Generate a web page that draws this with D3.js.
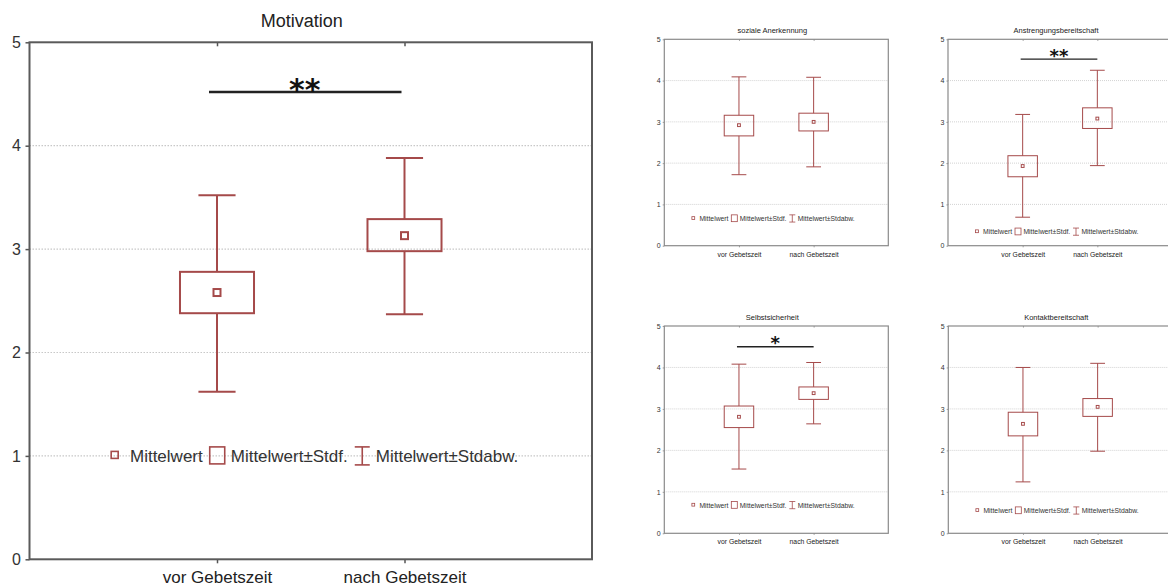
<!DOCTYPE html>
<html>
<head>
<meta charset="utf-8">
<script src="https://cdn.jsdelivr.net/npm/d3@7"></script>
<style>
  body { margin: 0; background: #fff; }
  svg { display: block; font-family: "Liberation Sans", Arial, sans-serif; }
</style>
</head>
<body>
<script>
// ---------- DATA ----------
const categories = ["vor Gebetszeit", "nach Gebetszeit"];
const titles = ["Motivation", "soziale Anerkennung", "Anstrengungsbereitschaft", "Selbstsicherheit", "Kontaktbereitschaft"];
const means    = [[2.58, 3.13], [2.92, 3.00], [1.93, 3.08], [2.81, 3.38], [2.64, 3.05]];
const stdfLow  = [[2.38, 2.98], [2.66, 2.78], [1.67, 2.84], [2.55, 3.23], [2.35, 2.82]];
const stdfHigh = [[2.78, 3.29], [3.16, 3.21], [2.18, 3.34], [3.07, 3.53], [2.92, 3.25]];
const sdLow    = [[1.62, 2.37], [1.72, 1.91], [0.69, 1.94], [1.55, 2.64], [1.24, 1.98]];
const sdHigh   = [[3.52, 3.88], [4.09, 4.08], [3.18, 4.25], [4.08, 4.12], [4.00, 4.10]];
const sigStars = ["**", "", "**", "*", ""];
const sigLevel = [4.52, null, 4.52, 4.50, null];
const yTicks = [0, 1, 2, 3, 4, 5];
const legendLabels = ["Mittelwert", "Mittelwert±Stdf.", "Mittelwert±Stdabw."];

// ---------- LAYOUT ----------
const panels = [
  {left: 29.5,  top: 42.3,  width: 562.5, height: 517,   s: 1,   legendAt: 1.0,
   fs: {title: 18, tick: 16, label: 17, legend: 17, star: 30}},
  {left: 664.3, top: 39.3,  width: 224,   height: 206.4, s: 0.4, legendAt: 0.66,
   fs: {title: 7.5, tick: 7, label: 6.8, legend: 6.8, star: 18}},
  {left: 948,   top: 39.3,  width: 224,   height: 206.4, s: 0.4, legendAt: 0.34,
   fs: {title: 7.5, tick: 7, label: 6.8, legend: 6.8, star: 18}},
  {left: 664.3, top: 326,   width: 224,   height: 207.3, s: 0.4, legendAt: 0.68,
   fs: {title: 7.5, tick: 7, label: 6.8, legend: 6.8, star: 18}},
  {left: 948.3, top: 326,   width: 224,   height: 207.3, s: 0.4, legendAt: 0.55,
   fs: {title: 7.5, tick: 7, label: 6.8, legend: 6.8, star: 18}}
];

const red = "#a54a4a";

let svg = d3.select("body").append("svg")
  .attr("width", 1168)
  .attr("height", 587);

panels.forEach(function(p, i) {
  let s = p.s;
  let w = p.width, h = p.height;
  let main = (s === 1);
  let lw = main ? 2 : 1;

  let g = svg.append("g")
    .attr("transform", "translate(" + p.left + "," + p.top + ")");

  let x = d3.scalePoint().domain(categories).range([0, w]).padding(1);
  let y = d3.scaleLinear().domain([0, 5]).range([h, 0]);

  //----grid----
  g.selectAll(".grid").data(yTicks.filter(t => t > 0 && t < 5)).join("line")
    .attr("class", "grid")
    .attr("x1", 0).attr("x2", w)
    .attr("y1", d => y(d)).attr("y2", d => y(d))
    .attr("stroke", "#c8c8c8")
    .attr("stroke-width", main ? 1.2 : 0.8)
    .attr("stroke-dasharray", main ? "1.5,1.5" : "1,1");

  //----axes----
  let yAxis = d3.axisLeft(y).tickValues(yTicks).tickFormat(d3.format("d"))
    .tickSize(main ? 4 : 1.6).tickPadding(main ? 4.5 : 2);
  let yg = g.append("g").call(yAxis);
  let xAxis = d3.axisBottom(x).tickSize(main ? 4 : 1.6).tickPadding(main ? 8 : 4.6);
  let xg = g.append("g").attr("transform", "translate(0," + h + ")").call(xAxis);
  let tg = g.append("g").call(d3.axisTop(x).tickSize(main ? -4 : -1.6).tickFormat(""));
  [yg, xg, tg].forEach(a => {
    a.select(".domain").remove();
    a.selectAll("line").attr("stroke", main ? "#555" : "#888").attr("stroke-width", main ? 1.5 : 0.8);
  });
  yg.selectAll("text").attr("font-size", p.fs.tick).attr("fill", "#333");
  xg.selectAll("text").attr("font-size", p.fs.label).attr("fill", "#222");

  //----frame----
  g.append("rect")
    .attr("width", w).attr("height", h)
    .attr("fill", "none")
    .attr("stroke", main ? "#5a5a5a" : "#8a8a8a")
    .attr("stroke-width", main ? 2 : 1.2);

  //----title----
  g.append("text")
    .attr("x", w / 2 - (main ? 9 : 4))
    .attr("y", main ? -15 : -6)
    .attr("text-anchor", "middle")
    .attr("font-size", p.fs.title)
    .attr("fill", "#222")
    .text(titles[i]);

  //----boxes and whiskers----
  let boxW = w * 0.1316, capW = w * 0.066, mk = Math.max(7 * s, 2.8);
  categories.forEach(function(c, j) {
    let cx = x(c);
    let bg = g.append("g").attr("stroke", red).attr("stroke-width", lw).attr("fill", "none");
    bg.append("line").attr("x1", cx).attr("x2", cx)
      .attr("y1", y(stdfHigh[i][j])).attr("y2", y(sdHigh[i][j]));
    bg.append("line").attr("x1", cx).attr("x2", cx)
      .attr("y1", y(stdfLow[i][j])).attr("y2", y(sdLow[i][j]));
    bg.append("line").attr("x1", cx - capW / 2).attr("x2", cx + capW / 2)
      .attr("y1", y(sdHigh[i][j])).attr("y2", y(sdHigh[i][j]));
    bg.append("line").attr("x1", cx - capW / 2).attr("x2", cx + capW / 2)
      .attr("y1", y(sdLow[i][j])).attr("y2", y(sdLow[i][j]));
    bg.append("rect")
      .attr("x", cx - boxW / 2).attr("width", boxW)
      .attr("y", y(stdfHigh[i][j]))
      .attr("height", y(stdfLow[i][j]) - y(stdfHigh[i][j]));
    bg.append("rect")
      .attr("x", cx - mk / 2).attr("y", y(means[i][j]) - mk / 2)
      .attr("width", mk).attr("height", mk);
  });

  //----significance----
  if (sigLevel[i] !== null) {
    g.append("line")
      .attr("x1", x(categories[0]) - (main ? 8 : 2))
      .attr("x2", x(categories[1]) - (main ? 3 : 0))
      .attr("y1", y(sigLevel[i])).attr("y2", y(sigLevel[i]))
      .attr("stroke", "#222")
      .attr("stroke-width", main ? 2.5 : 1.3);
    g.append("text")
      .attr("x", (x(categories[0]) + x(categories[1])) / 2 - (main ? 6 : 1))
      .attr("y", y(sigLevel[i]) - (main ? 9 : 8) + p.fs.star * 0.58)
      .attr("text-anchor", "middle")
      .attr("font-family", "DejaVu Sans")
      .attr("font-weight", "bold")
      .attr("font-size", p.fs.star)
      .attr("fill", "#111")
      .text(sigStars[i]);
  }

  //----legend----
  let leg = g.append("g");
  let ly = y(p.legendAt);
  let cur = 0;
  let lstroke = main ? 1.6 : 0.8;
  legendLabels.forEach(function(lab, k) {
    if (k === 0) {
      leg.append("rect")
        .attr("x", cur).attr("y", ly - 3.5 * s - 1 * s)
        .attr("width", 7 * s).attr("height", 7 * s)
        .attr("fill", "none").attr("stroke", red).attr("stroke-width", lstroke);
      cur += 7 * s + 11.8 * s;
    } else if (k === 1) {
      leg.append("rect")
        .attr("x", cur).attr("y", ly - 9 * s)
        .attr("width", 15 * s).attr("height", 17 * s)
        .attr("fill", "none").attr("stroke", red).attr("stroke-width", lstroke);
      cur += 15 * s + 6 * s;
    } else {
      let ic = leg.append("g").attr("stroke", red).attr("stroke-width", lstroke);
      ic.append("line").attr("x1", cur + 7.5 * s).attr("x2", cur + 7.5 * s)
        .attr("y1", ly - 9 * s).attr("y2", ly + 9 * s);
      ic.append("line").attr("x1", cur).attr("x2", cur + 15 * s)
        .attr("y1", ly - 9 * s).attr("y2", ly - 9 * s);
      ic.append("line").attr("x1", cur).attr("x2", cur + 15 * s)
        .attr("y1", ly + 9 * s).attr("y2", ly + 9 * s);
      cur += 15 * s + 6 * s;
    }
    let t = leg.append("text")
      .attr("x", cur).attr("y", ly + p.fs.legend * 0.36)
      .attr("font-size", p.fs.legend)
      .attr("fill", "#333")
      .text(lab);
    cur += t.node().getComputedTextLength() + 7 * s;
  });
  let lw2 = cur - 7 * s;
  leg.attr("transform", "translate(" + (w / 2 - lw2 / 2 + (main ? 4 : -3)) + ",0)");
});
</script>
</body>
</html>
